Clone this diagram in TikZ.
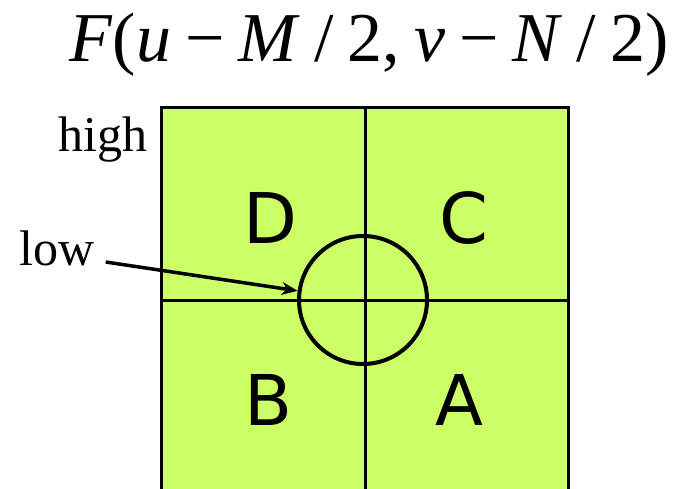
\documentclass[tikz,border=0pt]{standalone}
\usepackage{fontspec}
\setmainfont{Liberation Serif}
\newfontfamily\quadfont{DejaVu Sans}
\usetikzlibrary{arrows.meta,positioning}
\definecolor{planegreen}{RGB}{204,255,102}
\newcommand{\fgap}{\hspace{14pt}}

\begin{document}
\begin{tikzpicture}[
    x=1pt, y=-1pt,
    quadlabel/.style={anchor=base, inner sep=0pt, font=\quadfont\fontsize{70}{70}\selectfont},
    sidelabel/.style={anchor=base, inner sep=0pt, font=\fontsize{50}{50}\selectfont},
    gridline/.style={line width=3pt},
    pointer/.style={-{Stealth[length=16pt,width=13pt]}, line width=3.5pt}
]
\useasboundingbox (0,0) rectangle (677,489);
% spectrum plane
\fill[planegreen] (161,108) rectangle (568,489);
\draw[gridline] (161,489) -- (161,108) -- (568,108) -- (568,489);
\draw[gridline] (365,108) -- (365,489);
\draw[gridline] (161,300) -- (568,300);
\node[draw, circle, line width=4pt, minimum size=128pt, inner sep=0pt] (lowcircle) at (363,300) {};
% labels
\node[anchor=base, inner sep=0pt, font=\fontsize{70}{70}\selectfont] (title) at (369,62)
    {\textit{F}(\textit{u}\fgap−\fgap\textit{M}\fgap/\fgap2,\fgap\textit{v}\fgap−\fgap\textit{N}\fgap/\fgap2)};
\node[quadlabel] (quadD) at (270,243) {D};
\node[quadlabel] (quadC) at (464,243) {C};
\node[quadlabel] (quadB) at (269,425) {B};
\node[quadlabel] (quadA) at (459,425) {A};
\node[sidelabel] (high) at (103,152) {high};
\node[sidelabel] (low) at (57,265) {low};
\draw[pointer] ([xshift=11pt,yshift=3pt]low.base east) -- (lowcircle.172);
\end{tikzpicture}
\end{document}
